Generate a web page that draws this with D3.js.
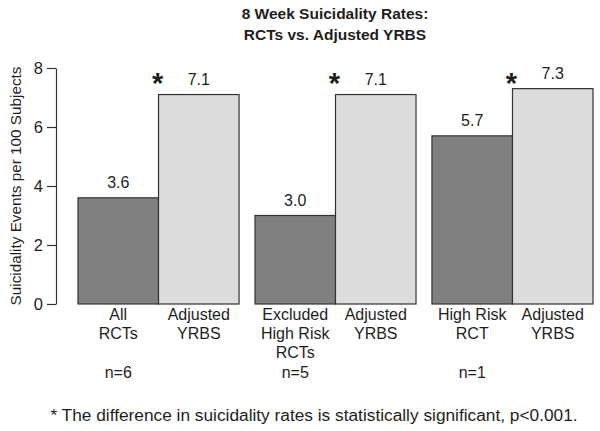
<!DOCTYPE html>
<html>
<head>
<meta charset="utf-8">
<script src="https://cdn.jsdelivr.net/npm/d3@7"></script>
<style>
  html, body { margin: 0; padding: 0; background: #fff; }
  svg { display: block; font-family: "Liberation Sans", Arial, Helvetica, sans-serif; }
</style>
</head>
<body>
<svg id="chart" width="600" height="431"></svg>
<script>
// ---- data ----
const groups = ["All RCTs", "Excluded High Risk RCTs", "High Risk RCT"];
const rctLabels = [["All", "RCTs"], ["Excluded", "High Risk", "RCTs"], ["High Risk", "RCT"]];
const yrbsLabel = ["Adjusted", "YRBS"];
const rctValues = [3.6, 3.0, 5.7];
const yrbsValues = [7.1, 7.1, 7.3];
const nLabels = ["n=6", "n=5", "n=1"];
const yTicks = [0, 2, 4, 6, 8];
const titleLines = ["8 Week Suicidality Rates:", "RCTs vs. Adjusted YRBS"];
const yTitle = "Suicidality Events per 100 Subjects";
const footnote = "* The difference in suicidality rates is statistically significant, p<0.001.";

const svg = d3.select("#chart");
const ink = "#333";
const txt = "#1e1e1e";

const y = d3.scaleLinear().domain([0, 8]).range([304, 68]);
const x0 = d3.scaleBand().domain(groups).range([78, 593]).paddingInner(0.09).paddingOuter(0);
const x1 = d3.scaleBand().domain(["rct", "yrbs"]).range([0, x0.bandwidth()]).padding(0);

// title
svg.append("g").selectAll("text").data(titleLines).join("text")
  .attr("x", 335).attr("y", (d, i) => 19 + i * 21)
  .attr("text-anchor", "middle").attr("font-weight", "bold").attr("font-size", 15.5)
  .attr("fill", txt).text(d => d);

// y axis
const yAxis = svg.append("g").attr("transform", "translate(56,0)")
  .call(d3.axisLeft(y).tickValues(yTicks).tickSize(9).tickSizeOuter(0).tickPadding(4).tickFormat(d3.format("d")));
yAxis.select(".domain").attr("stroke", ink).attr("stroke-width", 1.2);
yAxis.selectAll(".tick line").attr("stroke", ink).attr("stroke-width", 1.2);
yAxis.selectAll(".tick text").attr("font-size", 16.5).attr("fill", txt)
  .attr("font-family", "Liberation Sans, Arial, sans-serif");

svg.append("text")
  .attr("transform", `translate(21,${(y(0) + y(8)) / 2}) rotate(-90)`)
  .attr("text-anchor", "middle").attr("font-size", 15.3).attr("fill", txt)
  .text(yTitle);

// rows for bars
const rows = [];
groups.forEach((g, i) => {
  rows.push({ g, key: "rct", v: rctValues[i], label: rctLabels[i], star: false });
  rows.push({ g, key: "yrbs", v: yrbsValues[i], label: yrbsLabel, star: true });
});

const bx = d => x0(d.g) + x1(d.key);
const bars = svg.append("g");
bars.selectAll("rect").data(rows).join("rect")
  .attr("x", bx).attr("y", d => y(d.v))
  .attr("width", x1.bandwidth()).attr("height", d => y(0) - y(d.v))
  .attr("fill", d => d.key === "rct" ? "#808080" : "#dcdcdc")
  .attr("stroke", ink).attr("stroke-width", 1.2);

// value labels
svg.append("g").selectAll("text").data(rows).join("text")
  .attr("x", d => bx(d) + x1.bandwidth() / 2).attr("y", d => y(d.v) - 9.5)
  .attr("text-anchor", "middle").attr("font-size", 16).attr("fill", txt)
  .text(d => d.v.toFixed(1));

// asterisks (all on one line)
const starY = y(d3.min(yrbsValues)) - 2;
svg.append("g").selectAll("text").data(rows.filter(d => d.star)).join("text")
  .attr("x", d => bx(d) - 1).attr("y", starY)
  .attr("text-anchor", "middle").attr("font-size", 29).attr("font-weight", "bold").attr("fill", txt)
  .text("*");

// category labels
const cat = svg.append("g").selectAll("text").data(rows).join("text")
  .attr("x", d => bx(d) + x1.bandwidth() / 2).attr("y", 320)
  .attr("text-anchor", "middle").attr("font-size", 16).attr("fill", txt);
cat.selectAll("tspan").data(d => d.label.map(t => ({ t, x: bx(d) + x1.bandwidth() / 2 }))).join("tspan")
  .attr("x", d => d.x).attr("dy", (d, i) => i === 0 ? 0 : 19).text(d => d.t);

// n labels
svg.append("g").selectAll("text").data(groups).join("text")
  .attr("x", g => x0(g) + x1("rct") + x1.bandwidth() / 2).attr("y", 378)
  .attr("text-anchor", "middle").attr("font-size", 16).attr("fill", txt)
  .text((g, i) => nLabels[i]);

// footnote
svg.append("text").attr("x", 314).attr("y", 421)
  .attr("text-anchor", "middle").attr("font-size", 17.3).attr("fill", txt)
  .text(footnote);
</script>
</body>
</html>
